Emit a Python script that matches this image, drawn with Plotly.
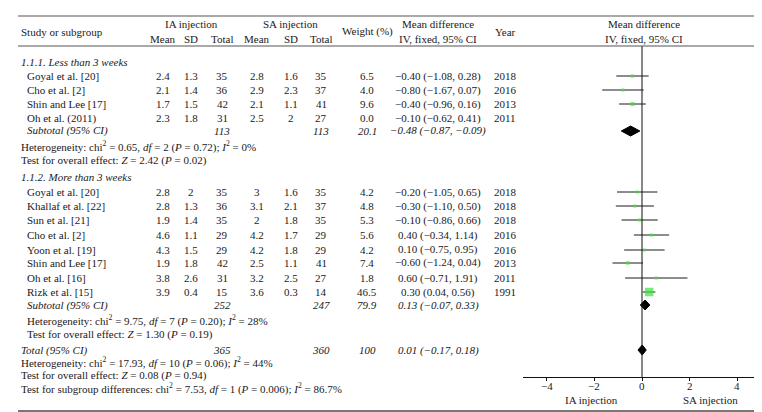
import plotly.graph_objects as go

W, H = 762, 412

# ---------------- data ----------------
g1_name = "1.1.1. Less than 3 weeks"
g1_studies = ["Goyal et al. [20]", "Cho et al. [2]", "Shin and Lee [17]", "Oh et al. (2011)"]
g1_ia_mean = [2.4, 2.1, 1.7, 2.3]
g1_ia_sd = [1.3, 1.4, 1.5, 1.8]
g1_ia_n = [35, 36, 42, 31]
g1_sa_mean = [2.8, 2.9, 2.1, 2.5]
g1_sa_sd = [1.6, 2.3, 1.1, 2]
g1_sa_n = [35, 37, 41, 27]
g1_weight = [6.5, 4.0, 9.6, 0.0]
g1_md = [-0.40, -0.80, -0.40, -0.10]
g1_lo = [-1.08, -1.67, -0.96, -0.62]
g1_hi = [0.28, 0.07, 0.16, 0.41]
g1_year = [2018, 2016, 2013, 2011]

g2_name = "1.1.2. More than 3 weeks"
g2_studies = ["Goyal et al. [20]", "Khallaf et al. [22]", "Sun et al. [21]", "Cho et al. [2]",
              "Yoon et al. [19]", "Shin and Lee [17]", "Oh et al. [16]", "Rizk et al. [15]"]
g2_ia_mean = [2.8, 2.8, 1.9, 4.6, 4.3, 1.9, 3.8, 3.9]
g2_ia_sd = [2, 1.3, 1.4, 1.1, 1.5, 1.8, 2.6, 0.4]
g2_ia_n = [35, 36, 35, 29, 29, 42, 31, 15]
g2_sa_mean = [3, 3.1, 2, 4.2, 4.2, 2.5, 3.2, 3.6]
g2_sa_sd = [1.6, 2.1, 1.8, 1.7, 1.8, 1.1, 2.5, 0.3]
g2_sa_n = [35, 37, 35, 29, 29, 41, 27, 14]
g2_weight = [4.2, 4.8, 5.3, 5.6, 4.2, 7.4, 1.8, 46.5]
g2_md = [-0.20, -0.30, -0.10, 0.40, 0.10, -0.60, 0.60, 0.30]
g2_lo = [-1.05, -1.10, -0.86, -0.34, -0.75, -1.24, -0.71, 0.04]
g2_hi = [0.65, 0.50, 0.66, 1.14, 0.95, 0.04, 1.91, 0.56]
g2_year = [2018, 2018, 2018, 2016, 2016, 2013, 2011, 1991]

sub_ia_n = [113, 252]
sub_sa_n = [113, 247]
sub_weight = ["20.1", "79.9"]
sub_md = [-0.48, 0.13]
sub_lo = [-0.87, -0.07]
sub_hi = [-0.09, 0.33]
sub_het = [("0.65", "2", "0.72", "0%"), ("9.75", "7", "0.20", "28%")]
sub_z = [("2.42", "0.02"), ("1.30", "0.19")]

tot_ia_n = 365
tot_sa_n = 360
tot_weight = "100"
tot_md, tot_lo, tot_hi = 0.01, -0.17, 0.18
tot_het = ("17.93", "10", "0.06", "44%")
tot_z = ("0.08", "0.94")
subgroup_diff = ("7.53", "1", "0.006", "86.7%")

x_ticks = [-4, -2, 0, 2, 4]
favours = ["IA injection", "SA injection"]

# ---------------- layout constants ----------------
FONT = "Liberation Serif, Times New Roman, serif"
FS = 11
TXT = "#1a1a1a"
RULE = "#555555"
GREEN = "#3ee03e"

col_x = dict(name=17, head=11, ia_mean=155, ia_sd=183, ia_n=214,
             sa_mean=249, sa_sd=283, sa_n=313, weight=359, md=430, year=497)

g1_head_y = 54
g1_rows_y = [68, 82, 96, 110]
g1_sub_y, g1_het_y, g1_z_y = 123, 138, 153
g2_head_y = 169
g2_rows_y = [184, 198, 212, 227, 242, 255, 270, 284]
g2_sub_y, g2_het_y, g2_z_y = 297, 312, 326
tot_y, tot_het_y, tot_z_y, sgd_y = 342, 354, 367, 380

AXIS_Y = 369
TICKLAB_Y = 378
FAV_Y = 392
PLOT_X0, PLOT_X1 = 515, 753


def minus(s):
    return s.replace("-", "\u2212")


def fnum(v):
    return minus(f"{v:g}")


def fci(m, lo, hi):
    return minus(f"{m:.2f} ({lo:.2f}, {hi:.2f})")


annotations = []


def txt(x, y, s, anchor="center", italic=False, size=FS, xref="paper"):
    if italic:
        s = f"<i>{s}</i>"
    annotations.append(dict(
        x=(x / W if xref == "paper" else x), y=1 - y / H, xref=xref, yref="paper",
        text=s, showarrow=False, xanchor=anchor, yanchor="middle",
        font=dict(family=FONT, size=size, color=TXT)))


def het_text(h):
    chi, df, p, i2 = h
    return (f"Heterogeneity: chi<sup>2</sup> = {chi}, <i>df</i> = {df} "
            f"(<i>P</i> = {p}); <i>I</i><sup>2</sup> = {i2}")


def z_text(z):
    return f"Test for overall effect: <i>Z</i> = {z[0]} (<i>P</i> = {z[1]})"


# header
txt(11, 24, "Study or subgroup", "left")
txt(183, 16, "IA injection")
txt(282, 16, "SA injection")
for k, lab in [("ia_mean", "Mean"), ("ia_sd", "SD"), ("ia_n", "Total"),
               ("sa_mean", "Mean"), ("sa_sd", "SD"), ("sa_n", "Total")]:
    txt(col_x[k], 31, lab)
txt(col_x["weight"], 24, "Weight (%)")
txt(col_x["md"], 16, "Mean difference")
txt(col_x["md"], 31, "IV, fixed, 95% CI")
txt(col_x["year"], 24, "Year")
txt(636, 16, "Mean difference")
txt(636, 31, "IV, fixed, 95% CI")


def study_rows(names, iam, iasd, ian, sam, sasd, san, w, md, lo, hi, yr, ys):
    for i, y in enumerate(ys):
        txt(col_x["name"], y, names[i], "left")
        txt(col_x["ia_mean"], y, fnum(iam[i]))
        txt(col_x["ia_sd"], y, fnum(iasd[i]))
        txt(col_x["ia_n"], y, str(ian[i]))
        txt(col_x["sa_mean"], y, fnum(sam[i]))
        txt(col_x["sa_sd"], y, fnum(sasd[i]))
        txt(col_x["sa_n"], y, str(san[i]))
        txt(col_x["weight"], y, f"{w[i]:.1f}")
        txt(col_x["md"], y, fci(md[i], lo[i], hi[i]))
        txt(col_x["year"], y, str(yr[i]))


txt(11, g1_head_y, g1_name, "left", italic=True)
study_rows(g1_studies, g1_ia_mean, g1_ia_sd, g1_ia_n, g1_sa_mean, g1_sa_sd, g1_sa_n,
           g1_weight, g1_md, g1_lo, g1_hi, g1_year, g1_rows_y)
txt(11, g2_head_y, g2_name, "left", italic=True)
study_rows(g2_studies, g2_ia_mean, g2_ia_sd, g2_ia_n, g2_sa_mean, g2_sa_sd, g2_sa_n,
           g2_weight, g2_md, g2_lo, g2_hi, g2_year, g2_rows_y)

for i, (sy, hy, zy, hx) in enumerate([(g1_sub_y, g1_het_y, g1_z_y, 11),
                                       (g2_sub_y, g2_het_y, g2_z_y, 17)]):
    txt(col_x["name"], sy, "Subtotal (95% CI)", "left", italic=True)
    txt(col_x["ia_n"], sy, str(sub_ia_n[i]), italic=True)
    txt(col_x["sa_n"], sy, str(sub_sa_n[i]), italic=True)
    txt(col_x["weight"], sy, sub_weight[i], italic=True)
    txt(col_x["md"], sy, fci(sub_md[i], sub_lo[i], sub_hi[i]), italic=True)
    txt(hx, hy, het_text(sub_het[i]), "left")
    txt(hx, zy, z_text(sub_z[i]), "left")

txt(11, tot_y, "Total (95% CI)", "left", italic=True)
txt(col_x["ia_n"], tot_y, str(tot_ia_n), italic=True)
txt(col_x["sa_n"], tot_y, str(tot_sa_n), italic=True)
txt(col_x["weight"], tot_y, tot_weight, italic=True)
txt(col_x["md"], tot_y, fci(tot_md, tot_lo, tot_hi), italic=True)
txt(11, tot_het_y, het_text(tot_het), "left")
txt(11, tot_z_y, z_text(tot_z), "left")
chi, df, p, i2 = subgroup_diff
txt(11, sgd_y, (f"Test for subgroup differences: chi<sup>2</sup> = {chi}, <i>df</i> = {df} "
                f"(<i>P</i> = {p}); <i>I</i><sup>2</sup> = {i2}"), "left")

# axis tick labels placed through the x data axis
for t in x_ticks:
    txt(t, TICKLAB_Y, minus(str(t)), xref="x")

txt(583, FAV_Y, favours[0])
txt(702, FAV_Y, favours[1])

# ---------------- plot traces ----------------
fig = go.Figure()

all_md = g1_md + g2_md
all_lo = g1_lo + g2_lo
all_hi = g1_hi + g2_hi
all_w = g1_weight + g2_weight
all_y = g1_rows_y + g2_rows_y
keep = [i for i, w in enumerate(all_w) if w > 0]

fig.add_trace(go.Scatter(
    x=[all_md[i] for i in keep], y=[all_y[i] for i in keep], mode="markers",
    marker=dict(symbol="square", color=GREEN, line=dict(width=0),
                size=[max(3, 1.25 * all_w[i] ** 0.5) for i in keep]),
    error_x=dict(type="data", symmetric=False,
                 array=[all_hi[i] - all_md[i] for i in keep],
                 arrayminus=[all_md[i] - all_lo[i] for i in keep],
                 width=0, thickness=1, color="#1a1a1a"),
    hoverinfo="skip", showlegend=False))

DH = 5
for m, lo, hi, y in [(sub_md[0], sub_lo[0], sub_hi[0], g1_sub_y),
                     (sub_md[1], sub_lo[1], sub_hi[1], g2_sub_y),
                     (tot_md, tot_lo, tot_hi, tot_y)]:
    fig.add_trace(go.Scatter(
        x=[lo, m, hi, m, lo], y=[y, y - DH, y, y + DH, y], mode="lines",
        fill="toself", fillcolor="black", line=dict(color="black", width=1),
        hoverinfo="skip", showlegend=False))

shapes = [
    dict(type="line", xref="x", yref="y", x0=0, x1=0, y0=38, y1=AXIS_Y,
         line=dict(color="#111111", width=1)),
    dict(type="line", xref="paper", yref="paper", x0=10 / W, x1=754 / W,
         y0=1 - 8 / H, y1=1 - 8 / H, line=dict(color=RULE, width=1.2)),
    dict(type="line", xref="paper", yref="paper", x0=10 / W, x1=754 / W,
         y0=1 - 38 / H, y1=1 - 38 / H, line=dict(color=RULE, width=1.2)),
    dict(type="line", xref="paper", yref="paper", x0=10 / W, x1=754 / W,
         y0=1 - 403 / H, y1=1 - 403 / H, line=dict(color="#777777", width=2)),
]

fig.update_layout(
    width=W, height=H, margin=dict(l=0, r=0, t=0, b=0),
    paper_bgcolor="white", plot_bgcolor="white",
    annotations=annotations, shapes=shapes, showlegend=False,
    xaxis=dict(domain=[PLOT_X0 / W, PLOT_X1 / W], range=[-5, 5],
               tickvals=x_ticks, showticklabels=False,
               ticks="outside", ticklen=3, tickcolor="#111111",
               showline=True, linecolor="#111111", linewidth=1,
               showgrid=False, zeroline=False, fixedrange=True),
    yaxis=dict(domain=[1 - AXIS_Y / H, 1], range=[AXIS_Y, 0], visible=False,
               showgrid=False, zeroline=False, fixedrange=True),
)

fig.write_html("out.html")
